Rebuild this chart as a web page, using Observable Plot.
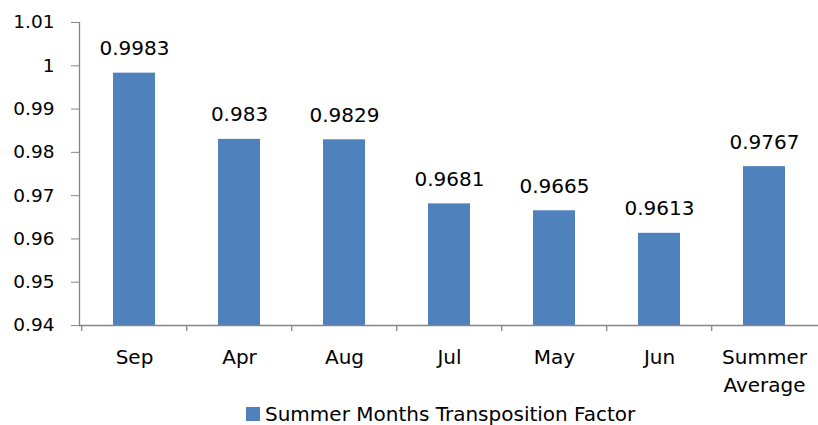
<!DOCTYPE html>
<html>
<head>
<meta charset="utf-8">
<script src="https://cdn.jsdelivr.net/npm/d3@7"></script>
<script src="https://cdn.jsdelivr.net/npm/@observablehq/plot@0.6"></script>
<style>
  html, body { margin: 0; padding: 0; background: #fff; }
  #wrap { width: 818px; height: 425px; position: relative; overflow: hidden; font-family: "DejaVu Sans", sans-serif; }
  #chart svg { display: block; }
  #legend { position: absolute; left: 246px; top: 404px; height: 20px; line-height: 20px; display: flex; align-items: center; font-size: 20px; color: #000; white-space: nowrap; }
  #legend .sw { width: 14px; height: 14px; background: #4F81BD; margin-right: 5px; }
</style>
</head>
<body>
<div id="wrap"><div id="chart"></div><div id="legend"><span class="sw"></span><span>Summer Months Transposition Factor</span></div></div>
<script>
const categories = ["Sep", "Apr", "Aug", "Jul", "May", "Jun", "Summer\nAverage"];
const values = [0.9983, 0.983, 0.9829, 0.9681, 0.9665, 0.9613, 0.9767];
const labels = ["0.9983", "0.983", "0.9829", "0.9681", "0.9665", "0.9613", "0.9767"];
const yTicks = [0.94, 0.95, 0.96, 0.97, 0.98, 0.99, 1, 1.01];
const seriesName = "Summer Months Transposition Factor";

const data = categories.map((c, i) => ({cat: c, v: values[i], label: labels[i]}));

const W = 818, H = 400, mL = 79, mR = 0, mT = 22, mB = 75;
const step = (W - mL - mR) / categories.length;
const axisGray = "#868686";

const chart = Plot.plot({
  width: W,
  height: H,
  marginLeft: mL,
  marginRight: mR,
  marginTop: mT,
  marginBottom: mB,
  style: {fontFamily: "DejaVu Sans, sans-serif", fontSize: "20px", color: "#000", background: "#fff"},
  x: {domain: categories, paddingInner: 0.6, paddingOuter: 0.3, label: null},
  y: {domain: [0.94, 1.01], label: null},
  marks: [
    Plot.barY(data, {x: "cat", y1: 0.94, y2: "v", fill: "#4F81BD"}),
    Plot.ruleY([0.94], {stroke: axisGray, strokeWidth: 1.3}),
    Plot.frame({anchor: "left", stroke: axisGray, strokeWidth: 1.3}),
    Plot.ruleX(categories, {x: d => d, dx: -step / 2, y1: 0.94, y2: 0.94 - 6 * 0.07 / (H - mT - mB), stroke: axisGray, strokeWidth: 1.3}),
    Plot.axisY({ticks: yTicks, tickFormat: d => String(+d.toFixed(2)), tickSize: 8, tickPadding: 17, fontSize: 18.5, stroke: axisGray, fill: "#000"}),
    Plot.axisX({tickSize: 0, tickPadding: 18, fontSize: 20, lineHeight: 1.42, fill: "#000"}),
    Plot.text(data, {x: "cat", y: "v", text: "label", dy: -18, lineAnchor: "bottom", fontSize: 20, fill: "#000"})
  ]
});
document.getElementById("chart").appendChild(chart);
</script>
</body>
</html>
